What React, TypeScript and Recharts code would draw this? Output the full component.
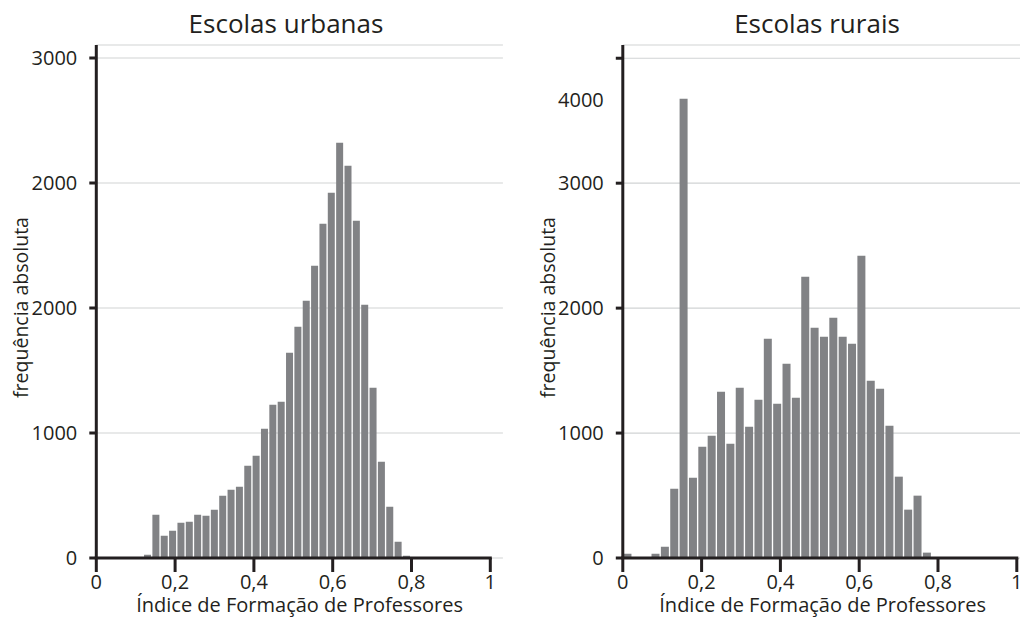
import { BarChart, Bar, XAxis, YAxis, CartesianGrid, ReferenceLine, Label } from 'recharts'

const FONT = '"Open Sans", sans-serif'
const INK = '#231f20'
const BAR = '#818285'
const GRID = '#d1d3d4'

const xTicks = [0, 0.2, 0.4, 0.6, 0.8, 1]

// urban schools histogram (bin left edge + width, counts)
const urbanBinStart = 0.1195
const urbanBinWidth = 0.0212
const urbanCounts = [
  20, 260, 134, 164, 212, 218, 260, 254, 290, 374, 410, 428, 554, 614, 776, 920,
  938, 1232, 1388, 1544, 1754, 2006, 2192, 2492, 2354, 2024, 1520, 1022, 578, 308, 98, 14,
]
const urbanYTicks = [0, 750, 1500, 2250, 3000]
const urbanYLabels = ['0', '1000', '2000', '2000', '3000']
const urbanYMax = 3078

// rural schools histogram
const ruralBinStart = 0
const ruralBinWidth = 0.02375
const ruralCounts = [
  35, 0, 0, 35, 91, 555, 3675, 643, 891, 979, 1331, 915, 1363, 1051, 1267, 1755, 1235,
  1555, 1283, 2251, 1843, 1771, 1923, 1771, 1715, 2419, 1419, 1355, 1059, 651, 387, 499, 43,
]
const ruralYTicks = [0, 1000, 2000, 3000, 4000]
const ruralYLabels = ['0', '1000', '2000', '3000', '4000']
const ruralYMax = 4106

const fmtX = (v: number) => String(v).replace('.', ',')

interface PanelProps {
  title: string
  titleX: number
  left: number
  width: number
  plotLeft: number
  xMax: number
  counts: number[]
  binStart: number
  binWidth: number
  yTicks: number[]
  yLabels: string[]
  yMax: number
  shiftIndex?: number
  shift?: number
}

function Panel(p: PanelProps) {
  const data = p.counts.map((count, i) => ({ x: p.binStart + p.binWidth * (i + 0.5), count }))

  const renderTick = (props: any) => {
    const { x, y, index } = props
    const dy = index === p.shiftIndex ? p.shift ?? 0 : 0
    return (
      <text x={x} y={y + dy} dy="0.35em" textAnchor="end" fill={INK} fontSize={20} fontFamily={FONT}>
        {p.yLabels[index]}
      </text>
    )
  }

  const renderYTitle = (props: any) => {
    const vb = props.viewBox
    const cx = vb.x - 15
    const cy = vb.y + vb.height / 2 + 6
    return (
      <text x={cx} y={cy} transform={`rotate(-90 ${cx} ${cy})`} textAnchor="middle" dy="0.35em"
        fill={INK} fontSize={19.5} fontFamily={FONT}>
        frequência absoluta
      </text>
    )
  }

  return (
    <div style={{ position: 'absolute', left: p.left, top: 0, width: p.width, height: 618 }}>
      <div style={{
        position: 'absolute', left: p.titleX - p.left - 150, top: 5, width: 300, textAlign: 'center',
        fontFamily: FONT, fontSize: 26, color: INK, lineHeight: 'normal',
      }}>
        {p.title}
      </div>
      <BarChart width={p.width} height={618} data={data} barCategoryGap={0.65}
        margin={{ top: 45, right: p.width - p.plotLeft - 394 * p.xMax, bottom: 0, left: p.plotLeft - 60 }}>
        <CartesianGrid vertical={false} stroke={GRID} strokeWidth={1.2} />
        <XAxis dataKey="x" type="number" domain={[0, p.xMax]} ticks={xTicks} interval={0} allowDataOverflow
          height={60} axisLine={false} tickLine={{ stroke: INK, strokeWidth: 3 }} tickSize={14} tickMargin={3}
          tick={{ fill: INK, fontSize: 20, fontFamily: FONT }} tickFormatter={fmtX}>
          <Label value="Índice de Formação de Professores" position="insideBottom" offset={6}
            fill={INK} fontSize={20} fontFamily={FONT} />
        </XAxis>
        <YAxis type="number" domain={[0, p.yMax]} ticks={p.yTicks} interval={0} width={60}
          axisLine={{ stroke: INK, strokeWidth: 3 }} tickLine={{ stroke: INK, strokeWidth: 3 }}
          tickSize={7} tickMargin={12} tick={renderTick}>
          <Label content={renderYTitle} />
        </YAxis>
        <Bar dataKey="count" fill={BAR} isAnimationActive={false} />
        <ReferenceLine segment={[{ x: 0, y: 0 }, { x: 1, y: 0 }]} stroke={INK} strokeWidth={3}
          strokeLinecap="square" />
      </BarChart>
    </div>
  )
}

export default function App() {
  return (
    <div style={{ position: 'absolute', left: 0, top: 0, width: 1020, height: 618, background: '#fff' }}>
      <Panel title="Escolas urbanas" titleX={286} left={0} width={510} plotLeft={96.3} xMax={1.032}
        counts={urbanCounts} binStart={urbanBinStart} binWidth={urbanBinWidth}
        yTicks={urbanYTicks} yLabels={urbanYLabels} yMax={urbanYMax} />
      <Panel title="Escolas rurais" titleX={817} left={510} width={510} plotLeft={112.8} xMax={1.0146}
        counts={ruralCounts} binStart={ruralBinStart} binWidth={ruralBinWidth}
        yTicks={ruralYTicks} yLabels={ruralYLabels} yMax={ruralYMax} shiftIndex={4} shift={42} />
    </div>
  )
}
